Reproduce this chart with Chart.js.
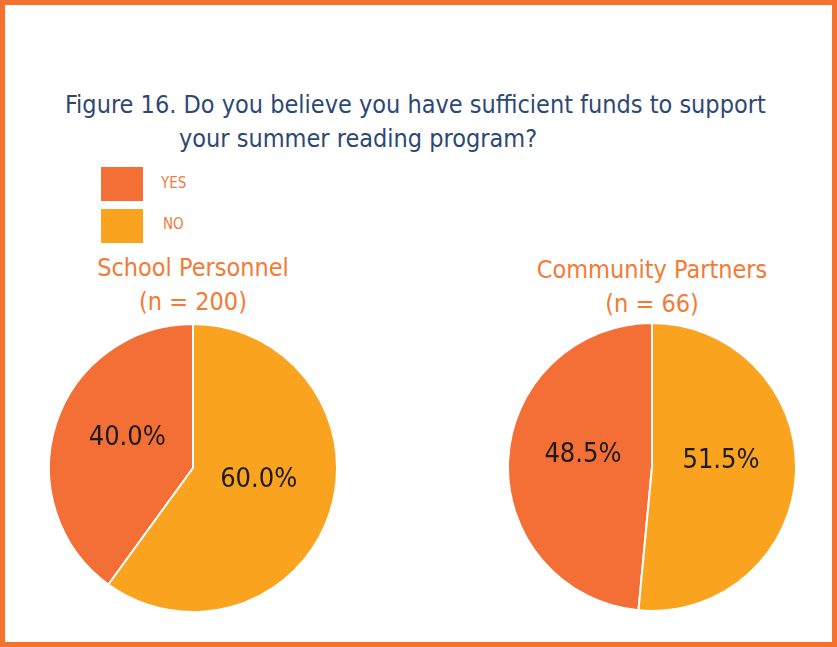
<!DOCTYPE html>
<html lang="en">
<head>
    <meta charset="UTF-8">
    <title>Figure 16 - Summer Reading Funds</title>
    <script src="https://cdn.jsdelivr.net/npm/chart.js"></script>
    <style>
        body { margin: 0; background: #fff; font-family: "Liberation Sans Narrow", "DejaVu Sans Condensed", sans-serif; }
        #frame { position: relative; width: 837px; height: 647px; box-sizing: border-box; border: 5px solid #f4722b; overflow: hidden; }
        .title { position: absolute; color: #2d4872; font-size: 25px; white-space: nowrap; }
        .swatch { position: absolute; width: 42px; height: 34px; left: 96px; }
        .legtext { position: absolute; color: #f47a3a; font-size: 15px; }
        .sub { position: absolute; color: #f47a35; font-size: 25px; text-align: center; width: 300px; line-height: 34px; }
        .pie { position: absolute; width: 290px; height: 290px; }
    </style>
</head>
<body>
<div id="frame">
    <div class="title" style="left:60px; top:85px;">Figure 16. Do you believe you have sufficient funds to support</div>
    <div class="title" style="left:174px; top:119px;">your summer reading program?</div>

    <div class="swatch" style="top:162px; background:#f36f35;"></div>
    <div class="legtext" style="left:156px; top:169px;">YES</div>
    <div class="swatch" style="top:204px; background:#f9a31f;"></div>
    <div class="legtext" style="left:158px; top:210px;">NO</div>

    <div class="sub" style="left:38px; top:246px;">School Personnel<br>(n = 200)</div>
    <div class="sub" style="left:497px; top:248px;">Community Partners<br>(n = 66)</div>

    <div class="pie" style="left:43px; top:318px;"><canvas id="pie1"></canvas></div>
    <div class="pie" style="left:502px; top:317px;"><canvas id="pie2"></canvas></div>
</div>

<script>
    var categories = ['YES', 'NO'];
    var schoolValues = [40.0, 60.0];
    var partnerValues = [48.5, 51.5];
    var colors = ['#f36f35', '#f9a31f'];

    // write the percent inside each slice
    var sliceLabels = {
        id: 'sliceLabels',
        afterDatasetsDraw: function(chart) {
            var ctx = chart.ctx;
            var meta = chart.getDatasetMeta(0);
            ctx.save();
            ctx.font = '27px "Liberation Sans Narrow", "DejaVu Sans Condensed", sans-serif';
            ctx.fillStyle = '#1b1b1b';
            ctx.textAlign = 'center';
            ctx.textBaseline = 'middle';
            meta.data.forEach(function(arc, i) {
                var mid = (arc.startAngle + arc.endAngle) / 2;
                var r = arc.outerRadius * 0.48;
                var x = arc.x + Math.cos(mid) * r;
                var y = arc.y + Math.sin(mid) * r - 9;
                ctx.fillText(chart.data.datasets[0].data[i].toFixed(1) + '%', x, y);
            });
            ctx.restore();
        }
    };

    function makePie(id, values) {
        var total = values[0] + values[1];
        return new Chart(document.getElementById(id), {
            type: 'pie',
            data: {
                labels: categories,
                datasets: [{
                    data: values,
                    backgroundColor: colors,
                    borderColor: '#ffffff',
                    borderWidth: 2
                }]
            },
            options: {
                responsive: true,
                maintainAspectRatio: false,
                animation: false,
                rotation: -values[0] / total * 360,
                layout: { padding: 0 },
                plugins: {
                    legend: { display: false },
                    tooltip: { enabled: false }
                }
            },
            plugins: [sliceLabels]
        });
    }

    makePie('pie1', schoolValues);
    makePie('pie2', partnerValues);
</script>
</body>
</html>
